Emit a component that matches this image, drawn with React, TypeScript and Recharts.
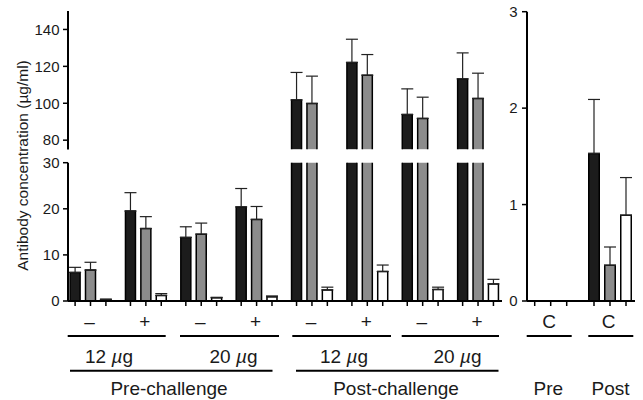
import React from "react";
import { Bar, BarChart, ErrorBar, XAxis, YAxis } from "recharts";

const FONT = '"Liberation Sans", Arial, Helvetica, sans-serif';
const INK = "#1a1a1a";
const BLACK = "#1c1c1c";
const GRAY = "#8c8c8c";
const WHITE = "#ffffff";

// left panel: 8 groups, pre / post challenge x dose x adjuvant
const leftSigns = ["–", "+", "–", "+", "–", "+", "–", "+"];
const leftBlack = [6.2, 19.5, 13.8, 20.4, 101.8, 122.1, 93.9, 113.2];
const leftBlackErr = [1.1, 4.0, 2.3, 4.0, 14.9, 12.6, 13.9, 14.1];
const leftGray = [6.7, 15.7, 14.5, 17.7, 99.9, 115.2, 91.8, 102.6];
const leftGrayErr = [1.7, 2.6, 2.4, 2.8, 14.8, 11.2, 11.5, 13.7];
const leftWhite = [0.3, 1.2, 0.7, 0.9, 2.4, 6.4, 2.5, 3.7];
const leftWhiteErr = [0.1, 0.4, 0.1, 0.2, 0.6, 1.4, 0.5, 1.0];

// right panel: controls
const rightLabels = ["C", "C"];
const rightBlack = [0, 1.53];
const rightBlackErr = [0, 0.56];
const rightGray = [0, 0.37];
const rightGrayErr = [0, 0.19];
const rightWhite = [0, 0.89];
const rightWhiteErr = [0, 0.39];

const lowerTicks = [0, 10, 20, 30];
const upperTicks = [75, 80, 100, 120, 140];
const rightTicks = [0, 1, 2, 3];

const doseLabels = ["12", "20", "12", "20"];
const phaseLabels = ["Pre-challenge", "Post-challenge"];
const panelLabels = ["Pre", "Post"];

const errPair = (e: number) => (e ? [0, e] : null);

const leftRows = leftSigns.map((sign, i) => ({
  sign,
  black: leftBlack[i],
  blackErr: errPair(leftBlackErr[i]),
  gray: leftGray[i],
  grayErr: errPair(leftGrayErr[i]),
  white: leftWhite[i],
  whiteErr: errPair(leftWhiteErr[i]),
}));

const rightRows = rightLabels.map((sign, i) => ({
  sign,
  black: rightBlack[i],
  blackErr: errPair(rightBlackErr[i]),
  gray: rightGray[i],
  grayErr: errPair(rightGrayErr[i]),
  white: rightWhite[i],
  whiteErr: errPair(rightWhiteErr[i]),
}));

// layout
const L_X0 = 68;
const L_X1 = 502;
const L_PAD = { left: -4.9, right: -4 };
const L_BAND = (L_X1 - L_X0 - L_PAD.left - L_PAD.right) / leftSigns.length;
const L_BAR = 10;
const L_GAP = 5.4;

const R_X0 = 527;
const R_X1 = 635;
const R_PAD = { left: -5.55, right: -5.05 };
const R_BAND = (R_X1 - R_X0 - R_PAD.left - R_PAD.right) / rightLabels.length;
const R_BAR = 10.5;
const R_GAP = 5.5;

const axisLine = { stroke: "#000", strokeWidth: 2 };
const tickLine = { stroke: "#000", strokeWidth: 1.5 };
const yTick = { fontSize: 15, fill: INK, fontFamily: FONT };

function GroupTick(props: any) {
  const { x, y, payload, band, barSize, gap, labelDx } = props;
  const sum = 3 * barSize + 2 * gap;
  const off = Math.floor((band - sum) / 2);
  const start = x - band / 2;
  const centers = [0, 1, 2].map((i) => start + off + i * (barSize + gap) + barSize / 2);
  return (
    <g>
      {centers.map((cx, i) => (
        <line key={i} x1={cx} x2={cx} y1={y} y2={y + 5} stroke="#000" strokeWidth={1.5} />
      ))}
      <text x={centers[1] + labelDx} y={y + 26.5} textAnchor="middle" fontSize={19} fill={INK} fontFamily={FONT}>
        {payload.value}
      </text>
    </g>
  );
}

// open-bottom bar, so the break in the axis has no edge drawn across it
function BarShape(props: any) {
  const { x, y, width, height, fill } = props;
  if (!(height > 0)) return null;
  return (
    <g>
      <rect x={x} y={y} width={width} height={height} fill={fill} />
      <path
        d={`M${x},${y + height} L${x},${y} L${x + width},${y} L${x + width},${y + height}`}
        fill="none"
        stroke="#000"
        strokeWidth={1.5}
      />
    </g>
  );
}

function bars(barSize: number) {
  const specs = [
    { key: "black", fill: BLACK },
    { key: "gray", fill: GRAY },
    { key: "white", fill: WHITE },
  ];
  return specs.map((s) => (
    <Bar
      key={s.key}
      dataKey={s.key}
      fill={s.fill}
      barSize={barSize}
      shape={BarShape}
      isAnimationActive={false}
    >
      <ErrorBar dataKey={`${s.key}Err`} width={6} stroke="#222" strokeWidth={1.2} isAnimationActive={false} />
    </Bar>
  ));
}

function Brackets() {
  const line1 = [
    [67.7, 165.7],
    [180, 279],
    [292.3, 391],
    [401.7, 499],
    [526.7, 571.7],
    [588.3, 633.3],
  ];
  const line2 = [
    [70, 272.5],
    [296, 498.5],
  ];
  const doseX = [109, 233.5, 344, 457.5];
  const phaseX = [169, 396];
  const panelX = [548.3, 610.5];
  return (
    <svg
      width={643}
      height={400}
      style={{ position: "absolute", left: 0, top: 0, pointerEvents: "none" }}
      fontFamily={FONT}
      fill={INK}
    >
      <text
        transform="translate(22.5 165.5) rotate(-90)"
        textAnchor="middle"
        dominantBaseline="central"
        fontSize={15.5}
      >
        Antibody concentration (µg/ml)
      </text>
      {line1.map(([a, b], i) => (
        <line key={`l1${i}`} x1={a} x2={b} y1={336} y2={336} stroke="#000" strokeWidth={2} />
      ))}
      {line2.map(([a, b], i) => (
        <line key={`l2${i}`} x1={a} x2={b} y1={370.7} y2={370.7} stroke="#000" strokeWidth={2} />
      ))}
      {doseLabels.map((d, i) => (
        <text key={`d${i}`} x={doseX[i]} y={363.3} textAnchor="middle" fontSize={19}>
          {d} <tspan fontStyle="italic">µ</tspan>g
        </text>
      ))}
      {phaseLabels.map((p, i) => (
        <text key={`p${i}`} x={phaseX[i]} y={395} textAnchor="middle" fontSize={19}>
          {p}
        </text>
      ))}
      {panelLabels.map((p, i) => (
        <text key={`q${i}`} x={panelX[i]} y={395} textAnchor="middle" fontSize={19}>
          {p}
        </text>
      ))}
    </svg>
  );
}

export default function App() {
  return (
    <div
      style={{
        position: "absolute",
        left: 0,
        top: 0,
        width: 643,
        height: 400,
        background: "#fff",
        fontFamily: FONT,
      }}
    >
      {/* upper segment of the broken axis: 75-150 */}
      <div style={{ position: "absolute", left: 0, top: 0 }}>
        <BarChart
          width={510}
          height={151}
          data={leftRows}
          barGap={L_GAP}
          margin={{ top: 11, right: 510 - L_X1, bottom: 1.6, left: 0 }}
        >
          <XAxis dataKey="sign" hide padding={L_PAD} />
          <YAxis
            width={L_X0}
            domain={[75, 150]}
            allowDataOverflow
            ticks={upperTicks}
            tickFormatter={(v) => (v === 75 ? "" : String(v))}
            axisLine={axisLine}
            tickLine={tickLine}
            tickSize={5}
            tickMargin={3.5}
            tick={yTick}
          />
          {bars(L_BAR)}
        </BarChart>
      </div>

      {/* lower segment: 0-30 */}
      <div style={{ position: "absolute", left: 0, top: 150 }}>
        <BarChart
          width={510}
          height={190}
          data={leftRows}
          barGap={L_GAP}
          margin={{ top: 12.7, right: 510 - L_X1, bottom: 0, left: 0 }}
        >
          <XAxis
            dataKey="sign"
            padding={L_PAD}
            height={39}
            axisLine={axisLine}
            tickLine={false}
            tickSize={0}
            tickMargin={0}
            interval={0}
            tick={<GroupTick band={L_BAND} barSize={L_BAR} gap={L_GAP} labelDx={-1} />}
          />
          <YAxis
            width={L_X0}
            domain={[0, 30]}
            allowDataOverflow
            ticks={lowerTicks}
            axisLine={axisLine}
            tickLine={tickLine}
            tickSize={5}
            tickMargin={3.5}
            tick={yTick}
          />
          {bars(L_BAR)}
        </BarChart>
      </div>

      {/* right panel: controls, 0-3 */}
      <div style={{ position: "absolute", left: 470, top: 0 }}>
        <BarChart
          width={173}
          height={340}
          data={rightRows}
          barGap={R_GAP}
          margin={{ top: 11.7, right: 643 - R_X1, bottom: 0, left: 0 }}
        >
          <XAxis
            dataKey="sign"
            padding={R_PAD}
            height={39}
            axisLine={axisLine}
            tickLine={false}
            tickSize={0}
            tickMargin={0}
            interval={0}
            tick={<GroupTick band={R_BAND} barSize={R_BAR} gap={R_GAP} labelDx={-1.5} />}
          />
          <YAxis
            width={R_X0 - 470}
            domain={[0, 3]}
            ticks={rightTicks}
            axisLine={axisLine}
            tickLine={tickLine}
            tickSize={5}
            tickMargin={4.5}
            tick={yTick}
          />
          {bars(R_BAR)}
        </BarChart>
      </div>

      <Brackets />
    </div>
  );
}
